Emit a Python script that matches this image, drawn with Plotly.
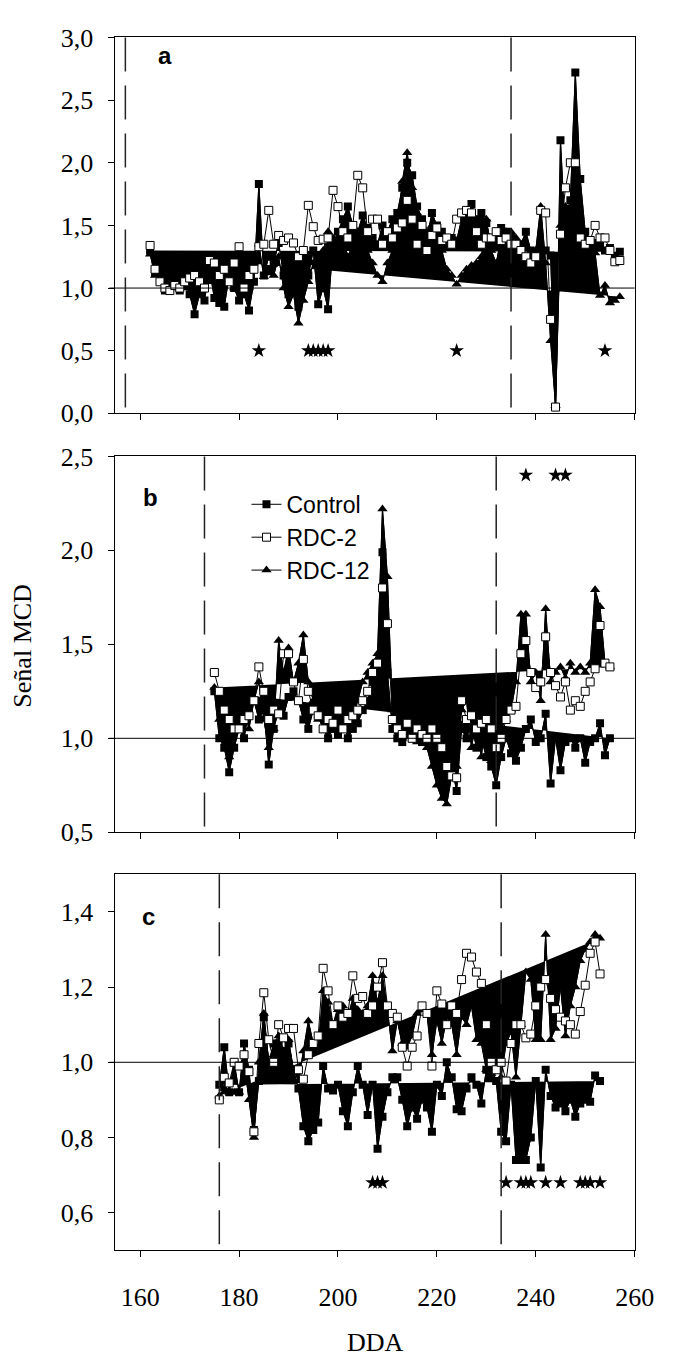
import plotly.graph_objects as go

# ---------------- data ----------------
start_a = 162
ctrl_a = [1.30,1.12,1.08,0.98,1.00,1.05,0.98,1.10,0.95,0.79,
          0.95,0.90,1.15,0.92,0.88,0.85,1.10,1.00,0.90,0.95,
          0.82,1.05,1.83,1.10,1.25,1.20,1.36,1.10,0.95,1.00,
          0.85,1.05,1.10,1.30,0.87,1.00,0.83,1.35,1.45,1.55,
          1.65,1.50,1.45,1.58,1.48,1.40,1.35,1.50,1.45,1.55,
          1.60,1.80,2.00,1.90,1.65,1.55,1.40,1.60,1.50,1.45,
          1.35,1.40,1.38,1.55,1.58,1.67,1.55,1.60,1.52,1.35,
          1.40,1.48,1.45,1.40,1.30,1.35,1.45,1.30,1.27,1.27,
          1.30,1.26,0.05,2.18,1.40,1.70,2.72,1.87,1.45,1.38,
          1.36,1.35,1.30,1.32,1.25,1.29]
rdc2_a = [1.34,1.15,1.05,1.00,0.98,1.02,1.00,1.05,1.08,1.10,
          1.05,1.00,1.22,1.20,1.10,1.15,1.05,1.20,1.33,1.00,
          1.10,1.15,1.33,1.35,1.62,1.35,1.42,1.38,1.40,1.36,
          1.25,1.30,1.66,1.49,1.38,1.39,1.40,1.78,1.65,1.45,
          1.40,1.50,1.90,1.80,1.45,1.55,1.55,1.35,1.45,1.40,
          1.48,1.52,1.70,1.55,1.35,1.50,1.30,1.42,1.48,1.38,
          1.40,1.35,1.55,1.60,1.62,1.60,1.45,1.35,1.40,1.40,
          1.45,1.38,1.40,1.35,1.35,1.30,1.25,1.20,1.25,1.62,
          1.60,0.75,0.05,1.43,1.80,2.00,2.00,1.40,1.35,1.38,
          1.50,1.40,1.40,1.30,1.21,1.22]
rdc12_a = [1.27,1.10,1.15,1.05,1.00,1.08,1.05,1.00,1.10,1.05,
           1.00,1.10,1.05,1.25,1.00,1.05,1.10,1.00,1.28,0.95,
           1.00,1.20,1.35,1.09,1.12,1.10,1.25,1.00,0.85,0.95,
           0.72,0.90,1.05,1.20,1.20,1.30,1.45,1.40,1.30,1.40,
           1.25,1.35,1.45,1.30,1.30,1.20,1.10,1.05,1.20,1.30,
           1.40,1.85,2.08,1.80,1.60,1.50,1.45,1.50,1.40,1.30,
           1.15,1.10,1.03,1.10,1.15,1.18,1.20,1.25,1.55,1.30,
           1.20,1.40,1.45,1.45,1.40,1.35,1.20,1.25,1.30,1.65,
           1.20,0.58,0.06,1.50,1.65,1.65,1.50,1.40,1.35,1.30,
           1.28,0.94,1.02,0.88,0.90,0.93]

start_b = 175
ctrl_b = [1.25,1.00,0.95,0.82,0.95,1.05,1.00,1.15,1.20,1.10,
          1.15,0.86,1.05,1.15,1.12,1.22,1.25,1.20,1.10,1.05,
          1.15,1.12,1.05,1.00,1.05,1.02,1.10,1.00,1.05,1.08,
          1.15,1.20,1.30,1.40,1.99,1.35,1.05,1.00,0.98,1.02,
          1.00,1.05,0.98,1.00,0.95,1.02,0.90,0.80,0.85,0.72,
          1.05,1.00,1.08,0.95,1.00,0.90,0.85,0.75,0.90,1.00,
          0.92,0.88,0.95,1.05,1.10,0.98,1.00,1.13,0.76,1.00,
          0.83,0.98,1.00,0.95,1.00,0.87,0.98,1.00,1.08,0.91,
          1.00]
rdc2_b = [1.35,1.25,1.15,1.10,1.05,1.05,1.10,1.12,1.20,1.38,
          1.25,1.10,1.15,1.13,1.45,1.45,1.30,1.20,1.42,1.25,
          1.15,1.12,1.05,1.10,1.08,1.15,1.05,1.10,1.12,1.15,
          1.20,1.25,1.35,1.40,1.80,1.61,1.10,1.05,1.02,1.08,
          1.00,1.05,1.02,1.00,1.05,1.00,0.95,0.85,0.80,0.79,
          1.20,1.10,1.12,1.05,1.08,1.10,1.05,0.95,1.00,1.10,
          1.15,1.17,1.45,1.52,1.35,1.27,1.30,1.54,1.35,1.28,
          1.22,1.30,1.15,1.20,1.17,1.25,1.30,1.37,1.60,1.40,
          1.38]
rdc12_b = [1.27,1.10,1.00,0.90,1.05,1.10,1.15,1.05,1.20,1.30,
           1.10,0.95,1.05,1.52,1.35,1.48,1.30,1.40,1.55,1.30,
           1.20,1.10,1.15,1.05,1.10,1.12,1.08,1.15,1.10,1.20,
           1.30,1.35,1.40,1.45,2.22,1.86,1.15,1.05,1.00,1.02,
           1.05,0.98,1.00,0.95,0.85,0.75,0.68,0.65,0.80,0.85,
           1.15,1.20,0.95,1.10,0.90,1.15,0.88,0.95,1.05,1.10,
           1.15,1.30,1.66,1.66,1.30,1.35,1.20,1.69,1.30,1.35,
           1.38,1.32,1.40,1.35,1.38,1.35,1.40,1.79,1.70,1.40,
           1.38]

start_c = 176
ctrl_c = [0.94,1.04,0.92,1.00,0.92,1.05,0.98,0.82,0.95,1.12,
          1.00,1.05,1.05,1.03,1.05,0.98,0.93,0.83,0.79,0.82,
          0.84,0.99,0.93,0.925,0.94,0.87,0.83,0.92,0.99,0.94,
          0.86,0.94,0.77,0.855,0.92,0.96,0.96,0.90,0.83,0.88,
          0.85,0.90,0.88,0.815,0.94,0.91,1.00,0.96,0.875,0.87,
          0.93,0.96,0.94,0.89,0.98,0.97,0.95,0.815,0.79,0.94,
          0.74,0.74,0.74,0.80,0.95,0.72,0.98,0.91,0.88,0.89,
          0.87,0.90,0.855,0.89,0.90,0.895,0.965,0.95]
rdc2_c = [0.90,0.96,0.945,1.00,0.99,1.02,0.975,0.815,1.05,1.185,
          1.06,1.00,1.10,1.065,1.09,1.09,0.98,0.955,1.02,1.05,
          1.07,1.25,1.19,1.10,1.15,1.12,1.13,1.23,1.17,1.175,
          1.13,1.15,1.20,1.265,1.15,1.13,1.12,1.04,0.99,1.04,
          1.07,1.15,1.13,0.99,1.19,1.155,1.10,1.15,1.13,1.22,
          1.29,1.28,1.24,1.21,1.10,1.00,0.98,1.00,0.95,1.05,
          1.10,1.10,1.065,1.075,1.15,1.20,1.22,1.17,1.14,1.12,
          1.11,1.10,1.075,1.135,1.205,1.29,1.32,1.235]
rdc12_c = [0.91,0.93,0.92,0.92,0.92,1.00,0.90,0.80,1.00,1.13,
           1.00,1.02,1.07,1.03,1.06,0.98,0.95,1.03,1.11,1.05,
           1.04,1.19,1.16,1.10,1.14,1.15,1.12,1.17,1.14,1.13,
           1.15,1.23,1.16,1.23,1.14,1.03,1.11,1.05,1.04,1.07,
           1.13,1.14,1.13,1.02,1.11,1.05,1.12,1.10,1.02,1.12,
           1.10,1.15,1.06,1.05,0.98,0.97,1.00,0.96,1.05,1.08,
           0.96,1.10,1.24,1.22,1.06,1.06,1.34,1.06,1.09,1.20,
           1.07,1.15,1.20,1.27,1.30,1.32,1.34,1.33]

stars_a = [184, 194, 195, 196, 197, 198, 224, 254]
stars_a_y = 0.5
stars_b = [238, 244, 246]
stars_b_y = 2.4
stars_c = [207, 208, 209, 234, 237, 238, 239, 242, 245, 249, 250, 251, 253]
stars_c_y = 0.68

stage_lines_a = [157, 235]
stage_lines_b = [173, 232]
stage_lines_c = [176, 233]

series_names = ["Control", "RDC-2", "RDC-12"]
x_ticks = [160, 180, 200, 220, 240, 260]
y_ticks_a = [0.0, 0.5, 1.0, 1.5, 2.0, 2.5, 3.0]
y_ticks_b = [0.5, 1.0, 1.5, 2.0, 2.5]
y_ticks_c = [0.6, 0.8, 1.0, 1.2, 1.4]
panel_letters = ["a", "b", "c"]

# ---------------- figure ----------------
W, H = 676, 1367
fig = go.Figure()

panels = [
    ("", start_a, ctrl_a, rdc2_a, rdc12_a, stars_a, stars_a_y, stage_lines_a, False),
    ("2", start_b, ctrl_b, rdc2_b, rdc12_b, stars_b, stars_b_y, stage_lines_b, True),
    ("3", start_c, ctrl_c, rdc2_c, rdc12_c, stars_c, stars_c_y, stage_lines_c, False),
]

shapes = []
for sfx, st, c, r2, r12, sx, sy, stg, show_leg in panels:
    xa, ya = "x" + sfx, "y" + sfx
    xc = list(range(st, st + len(c)))
    x2 = list(range(st, st + len(r2)))
    x12 = list(range(st, st + len(r12)))
    # polygon fills
    for xx, yy in ((xc, c), (x12, r12)):
        fig.add_trace(go.Scatter(x=xx, y=yy, xaxis=xa, yaxis=ya, mode="lines",
                                 fill="toself", fillcolor="black",
                                 line=dict(color="black", width=1),
                                 hoverinfo="skip", showlegend=False))
    fig.add_trace(go.Scatter(x=xc, y=c, xaxis=xa, yaxis=ya, mode="lines+markers",
                             name=series_names[0], legendgroup="c", showlegend=show_leg,
                             line=dict(color="black", width=1),
                             marker=dict(symbol="square", size=8, color="black")))
    fig.add_trace(go.Scatter(x=x12, y=r12, xaxis=xa, yaxis=ya, mode="lines+markers",
                             name=series_names[2], legendgroup="r12", showlegend=False,
                             line=dict(color="black", width=1),
                             marker=dict(symbol="triangle-up", size=9, color="black")))
    fig.add_trace(go.Scatter(x=x2, y=r2, xaxis=xa, yaxis=ya, mode="lines+markers",
                             name=series_names[1], legendgroup="r2", showlegend=show_leg,
                             line=dict(color="black", width=1),
                             marker=dict(symbol="square", size=8, color="white",
                                         line=dict(color="black", width=1))))
    if show_leg:
        fig.add_trace(go.Scatter(x=[None], y=[None], xaxis=xa, yaxis=ya, mode="lines+markers",
                                 name=series_names[2], legendgroup="r12", showlegend=True,
                                 line=dict(color="black", width=1),
                                 marker=dict(symbol="triangle-up", size=9, color="black")))
    fig.add_trace(go.Scatter(x=sx, y=[sy] * len(sx), xaxis=xa, yaxis=ya, mode="markers",
                             marker=dict(symbol="star", size=11, color="black"),
                             hoverinfo="skip", showlegend=False))
    # reference line at 1.0
    shapes.append(dict(type="line", xref=xa + " domain", yref=ya, x0=-0.012, x1=1,
                       y0=1.0, y1=1.0, line=dict(color="black", width=1)))
    for v in stg:
        shapes.append(dict(type="line", xref=xa, yref=ya + " domain", x0=v, x1=v,
                           y0=1, y1=0, line=dict(color="#222222", width=1.5, dash="34px,14px")))

x_dom = [119 / W, 654 / W]
doms = [(24, 408), (452, 836), (879, 1263)]
ydoms = [[1 - b / H, 1 - t / H] for t, b in doms]

tickfont = dict(family="Liberation Serif", size=26, color="black")
axcommon = dict(showline=True, linecolor="black", linewidth=1, mirror=True,
                ticks="outside", ticklen=6, tickwidth=1, tickcolor="black",
                showgrid=False, zeroline=False, tickfont=tickfont)

layout = dict(width=W, height=H, margin=dict(l=0, r=0, t=0, b=0),
              paper_bgcolor="white", plot_bgcolor="white",
              separators=",.", shapes=shapes, showlegend=True,
              legend=dict(x=254 / W, y=1 - 479 / H, xanchor="left", yanchor="top",
                          font=dict(family="Liberation Sans", size=23, color="black"),
                          bgcolor="rgba(0,0,0,0)", tracegroupgap=0, traceorder="normal"))

for i, sfx in enumerate(["", "2", "3"]):
    layout["xaxis" + sfx] = dict(axcommon, domain=x_dom, anchor="y" + sfx, range=[155, 260],
                                 tickvals=x_ticks, showticklabels=(i == 2),
                                 ticklabelstandoff=18)
layout["yaxis"] = dict(axcommon, domain=ydoms[0], anchor="x", range=[0, 3],
                       tickvals=y_ticks_a, tickformat=".1f", ticklabelstandoff=10)
layout["yaxis2"] = dict(axcommon, domain=ydoms[1], anchor="x2", range=[0.5, 2.5],
                        tickvals=y_ticks_b, tickformat=".1f", ticklabelstandoff=10)
layout["yaxis3"] = dict(axcommon, domain=ydoms[2], anchor="x3", range=[0.5, 1.5],
                        tickvals=y_ticks_c, tickformat=".1f", ticklabelstandoff=10)

annots = []
for letter, (px, py) in zip(panel_letters, [(170, 42), (155, 494), (153, 922)]):
    annots.append(dict(text="<b>%s</b>" % letter, xref="paper", yref="paper",
                       x=px / W, y=1 - py / H, xanchor="center", yanchor="middle",
                       showarrow=False, font=dict(family="Liberation Sans", size=24, color="black")))
annots.append(dict(text="Señal MCD", xref="paper", yref="paper", x=23 / W, y=1 - 645 / H,
                   textangle=-90, xanchor="center", yanchor="middle", showarrow=False,
                   font=dict(family="Liberation Serif", size=26, color="black")))
annots.append(dict(text="DDA", xref="paper", yref="paper", x=387 / W, y=1 - 1357 / H,
                   xanchor="center", yanchor="middle", showarrow=False,
                   font=dict(family="Liberation Serif", size=26, color="black")))
layout["annotations"] = annots

fig.update_layout(**layout)
fig.write_html("out.html")
